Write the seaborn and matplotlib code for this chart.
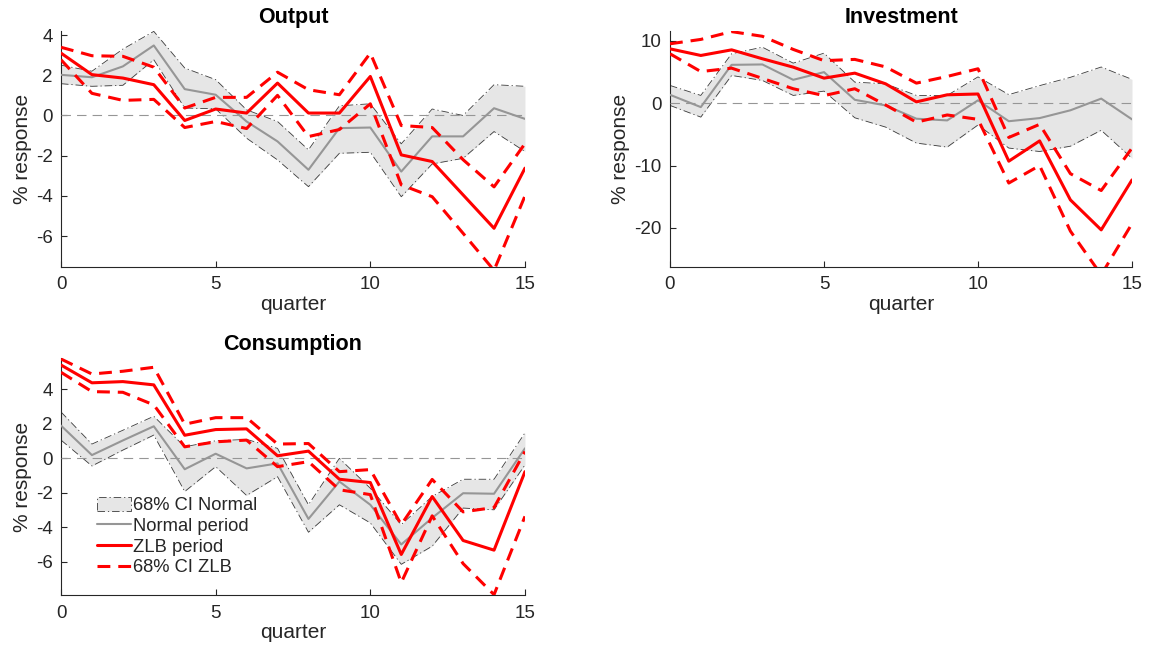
import numpy as np
import pandas as pd
import matplotlib
matplotlib.use("Agg")
import matplotlib.pyplot as plt
from matplotlib.lines import Line2D
from matplotlib.patches import Patch
import seaborn as sns

# Impulse responses (% response) by quarter after the shock
quarters = list(range(16))

out_norm = [2.02, 1.9, 2.44, 3.48, 1.31, 1.03, -0.3, -1.29, -2.7, -0.63, -0.6, -2.79, -1.04, -1.04, 0.36, -0.17]
out_norm_hi = [2.5, 2.2, 3.3, 4.18, 2.36, 1.78, 0.28, -0.3, -1.71, 0.48, 0.58, -1.41, 0.32, 0.0, 1.53, 1.45]
out_norm_lo = [1.58, 1.45, 1.5, 2.77, 0.37, 0.33, -1.13, -2.21, -3.54, -1.88, -1.83, -4.04, -2.41, -2.13, -0.8, -1.79]
out_zlb = [3.1, 2.03, 1.86, 1.53, -0.25, 0.32, 0.12, 1.61, 0.12, 0.12, 1.94, -1.96, -2.29, -3.95, -5.61, -2.62]
out_zlb_hi = [3.39, 2.97, 2.94, 2.4, 0.37, 0.9, 0.9, 2.15, 1.28, 1.03, 3.1, -0.5, -0.6, -2.2, -3.55, -1.4]
out_zlb_lo = [2.77, 1.1, 0.75, 0.8, -0.6, -0.3, -0.65, 1.0, -1.05, -0.7, 0.58, -3.45, -4.04, -5.86, -7.7, -4.0]

inv_norm = [1.33, -0.64, 6.13, 6.19, 3.73, 4.96, 0.53, -0.37, -2.5, -2.77, 0.45, -2.9, -2.4, -1.15, 0.72, -2.6]
inv_norm_hi = [2.83, 1.23, 7.9, 8.96, 6.4, 8.0, 3.36, 3.09, 1.23, 1.23, 4.2, 1.36, 2.8, 4.13, 5.78, 3.8]
inv_norm_lo = [-0.37, -2.24, 4.43, 3.63, 1.23, 1.92, -2.35, -3.84, -6.4, -7.04, -3.5, -7.2, -7.75, -6.9, -4.35, -8.85]
inv_zlb = [8.69, 7.63, 8.53, 7.1, 5.76, 4.0, 4.8, 3.09, 0.2, 1.33, 1.46, -9.3, -6.05, -15.5, -20.3, -12.3]
inv_zlb_hi = [9.5, 10.2, 11.45, 10.7, 8.6, 6.8, 7.0, 5.8, 3.2, 4.27, 5.5, -5.5, -3.4, -11.3, -14.0, -7.2]
inv_zlb_lo = [7.9, 5.05, 5.6, 3.96, 2.3, 1.2, 2.3, -0.3, -3.05, -1.9, -2.6, -12.8, -10.0, -20.5, -27.5, -19.3]

con_norm = [1.9, 0.19, 1.04, 1.86, -0.63, 0.27, -0.58, -0.29, -3.51, -1.34, -2.69, -4.99, -3.45, -2.02, -2.05, 0.58]
con_norm_hi = [2.69, 0.83, 1.63, 2.44, 0.67, 1.02, 1.1, 0.58, -2.69, 0.0, -1.73, -3.84, -2.21, -1.21, -1.21, 1.48]
con_norm_lo = [1.06, -0.44, 0.48, 1.35, -1.92, -0.48, -2.15, -1.06, -4.28, -2.69, -3.74, -6.14, -5.09, -2.88, -2.98, -0.38]
con_zlb = [5.41, 4.38, 4.45, 4.26, 1.34, 1.67, 1.71, 0.15, 0.42, -1.21, -1.4, -5.57, -2.21, -4.76, -5.32, -0.77]
con_zlb_hi = [5.76, 4.89, 5.05, 5.28, 1.98, 2.36, 2.36, 0.83, 0.86, -0.77, -0.65, -3.84, -1.22, -3.1, -2.85, 0.4]
con_zlb_lo = [4.99, 3.87, 3.83, 3.1, 0.67, 0.96, 1.06, -0.48, -0.19, -1.82, -2.1, -7.2, -3.33, -6.1, -7.9, -3.36]

titles = ["Output", "Investment", "Consumption"]
xticks = [0, 5, 10, 15]
yticks = {
    "Output": [-6, -4, -2, 0, 2, 4],
    "Investment": [-20, -10, 0, 10],
    "Consumption": [-6, -4, -2, 0, 2, 4],
}
ylims = {
    "Output": (-7.52, 4.2),
    "Investment": (-26.2, 11.55),
    "Consumption": (-7.92, 5.8),
}
legend_labels = ["68% CI Normal", "Normal period", "ZLB period", "68% CI ZLB"]

sns.set_style("ticks")
plt.rcParams["font.family"] = ["Liberation Sans", "DejaVu Sans"]
plt.rcParams["axes.unicode_minus"] = False
plt.rcParams["axes.edgecolor"] = "#262626"
plt.rcParams["xtick.color"] = "#262626"
plt.rcParams["ytick.color"] = "#262626"
plt.rcParams["text.color"] = "#262626"

RED = "#ff0000"
GRAY = "#969696"
BAND = "#e6e6e6"
EDGE = "#3a3a3a"
DASH_RED = (0, (4.2, 2.6))
DASH_DOT = (0, (9, 3.5, 1.5, 3.5))
DASH_ZERO = (0, (8.5, 5.5))

series = {
    "Output": (out_norm, out_norm_lo, out_norm_hi, out_zlb, out_zlb_lo, out_zlb_hi),
    "Investment": (inv_norm, inv_norm_lo, inv_norm_hi, inv_zlb, inv_zlb_lo, inv_zlb_hi),
    "Consumption": (con_norm, con_norm_lo, con_norm_hi, con_zlb, con_zlb_lo, con_zlb_hi),
}

fig = plt.figure(figsize=(11.51, 6.51), dpi=100)
positions = {
    "Output": [0.053, 0.5903, 0.4031, 0.3621],
    "Investment": [0.5821, 0.5903, 0.4014, 0.3621],
    "Consumption": [0.053, 0.086, 0.4031, 0.3636],
}

for name in titles:
    ax = fig.add_axes(positions[name])
    norm, lo, hi, zlb, zlo, zhi = series[name]
    df = pd.DataFrame({
        "quarter": quarters, "norm": norm, "lo": lo, "hi": hi,
        "zlb": zlb, "zlo": zlo, "zhi": zhi,
    })

    # Normal-period confidence band with dash-dot borders
    ax.fill_between(df["quarter"], df["lo"], df["hi"], color=BAND, linewidth=0, zorder=1)
    for col in ("lo", "hi"):
        sns.lineplot(data=df, x="quarter", y=col, ax=ax, color=EDGE,
                     linewidth=0.6, linestyle=DASH_DOT, zorder=2)

    # Normal-period response
    sns.lineplot(data=df, x="quarter", y="norm", ax=ax, color=GRAY,
                 linewidth=1.5, zorder=3)

    # Zero reference line
    ax.axhline(0, color=GRAY, linewidth=0.8, linestyle=DASH_ZERO, zorder=3.5)

    # ZLB-period response and its confidence bounds
    sns.lineplot(data=df, x="quarter", y="zlb", ax=ax, color=RED,
                 linewidth=2.2, zorder=5)
    for col in ("zlo", "zhi"):
        sns.lineplot(data=df, x="quarter", y=col, ax=ax, color=RED,
                     linewidth=2.2, linestyle=DASH_RED, zorder=4)

    ax.set_xlim(0, 15)
    ax.set_ylim(*ylims[name])
    ax.set_xticks(xticks)
    ax.set_yticks(yticks[name])
    ax.set_xticklabels([str(t) for t in xticks])
    ax.set_yticklabels([str(t) for t in yticks[name]])
    ax.tick_params(direction="in", length=4, width=0.8, labelsize=13.5, pad=7)
    ax.tick_params(axis="y", pad=6)
    for side in ("top", "right"):
        ax.spines[side].set_visible(False)
    for side in ("left", "bottom"):
        ax.spines[side].set_linewidth(0.8)
    ax.set_title(name, fontsize=15.5, fontweight="bold", pad=6, color="black")
    ax.set_xlabel("quarter", fontsize=15, labelpad=1)
    ax.set_ylabel("% response", fontsize=15, labelpad=3)

    if name == "Consumption":
        handles = [
            Patch(facecolor=BAND, edgecolor=EDGE, linewidth=0.6, linestyle=DASH_DOT),
            Line2D([], [], color=GRAY, linewidth=1.5),
            Line2D([], [], color=RED, linewidth=2.2),
            Line2D([], [], color=RED, linewidth=2.2, linestyle=DASH_RED),
        ]
        ax.legend(handles, legend_labels, loc="upper left",
                  bbox_to_anchor=(0.077, 0.415), frameon=False, fontsize=13.2,
                  handlelength=1.85, handleheight=0.8, handletextpad=0.15,
                  labelspacing=0.18, borderaxespad=0, borderpad=0)

fig.savefig("out.png", dpi=100)
